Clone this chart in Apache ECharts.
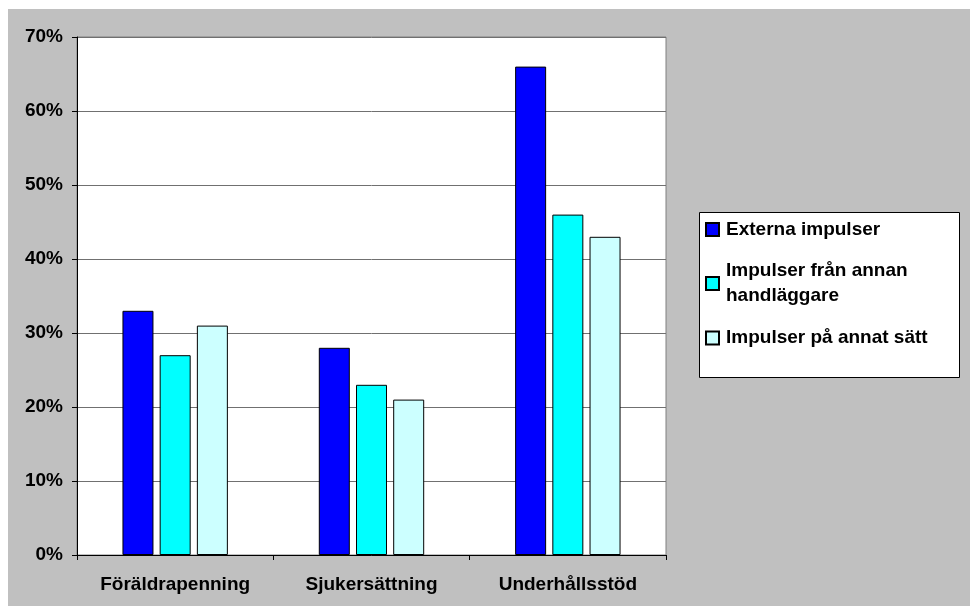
<!DOCTYPE html>
<html>
<head>
<meta charset="utf-8">
<script src="https://cdn.jsdelivr.net/npm/echarts@6/dist/echarts.min.js"></script>
<style>
  html, body { margin: 0; padding: 0; background: #ffffff; }
  #chart { position: absolute; left: 8px; top: 9px; width: 962px; height: 597px; }
</style>
</head>
<body>
<div id="chart"></div>
<script>
// Categories on the x axis
const categories = ['Föräldrapenning', 'Sjukersättning', 'Underhållsstöd'];

// Share of cases (%) per impulse type
const externaImpulser = [33, 28, 66];
const impulserAnnanHandlaggare = [27, 23, 46];
const impulserAnnatSatt = [31, 21, 43];

// Series names (legend text)
const seriesNames = ['Externa impulser', 'Impulser från annan\nhandläggare', 'Impulser på annat sätt'];
const seriesColors = ['#0000FF', '#00FFFF', '#CCFFFF'];

// Value axis range
const yMin = 0;
const yMax = 70;
const yStep = 10;

const FONT = '"Liberation Sans", Arial, sans-serif';
const textBase = { fontFamily: FONT, fontSize: 19, fontWeight: 'bold', color: '#000' };

function barSeries(name, data, color) {
  return {
    name: name,
    type: 'bar',
    data: data,
    barWidth: 31,
    barGap: '20%',
    itemStyle: { color: color, borderColor: '#000', borderWidth: 1 },
    emphasis: { disabled: true }
  };
}

function legendFor(name, top, extraText) {
  return {
    data: [name],
    orient: 'vertical',
    left: 697,
    top: top,
    padding: 0,
    itemWidth: 13,
    itemHeight: 13,
    icon: 'rect',
    selectedMode: false,
    z: 5,
    textStyle: Object.assign({}, textBase, { lineHeight: 25, padding: [0, 0, 0, 2] }, extraText || {})
  };
}

const chart = echarts.init(document.getElementById('chart'));
chart.setOption({
  backgroundColor: '#C0C0C0',
  animation: false,
  grid: {
    left: 69, top: 28, right: 304, bottom: 51,
    show: true, backgroundColor: '#FFFFFF', borderColor: '#808080', borderWidth: 1
  },
  xAxis: {
    type: 'category',
    data: categories,
    axisLine: { lineStyle: { color: '#000', width: 1 } },
    axisTick: { show: true, length: 5, inside: false, lineStyle: { color: '#000' } },
    axisLabel: Object.assign({}, textBase, { margin: 20 }),
    splitLine: { show: false }
  },
  yAxis: {
    type: 'value',
    min: yMin, max: yMax, interval: yStep,
    axisLine: { show: true, lineStyle: { color: '#000', width: 1 } },
    axisTick: { show: true, length: 5, lineStyle: { color: '#000' } },
    axisLabel: Object.assign({}, textBase, { margin: 14, formatter: '{value}%' }),
    splitLine: { show: true, lineStyle: { color: '#707070', width: 1 } }
  },
  legend: [
    legendFor(seriesNames[0], 208),
    legendFor(seriesNames[1], 237, { padding: [25, 0, 0, 2] }),
    legendFor(seriesNames[2], 316.5)
  ],
  graphic: [{
    type: 'rect',
    z: 1,
    shape: { x: 691.5, y: 203.5, width: 260, height: 165 },
    style: { fill: '#FFFFFF', stroke: '#000', lineWidth: 1 }
  }],
  series: [
    barSeries(seriesNames[0], externaImpulser, seriesColors[0]),
    barSeries(seriesNames[1], impulserAnnanHandlaggare, seriesColors[1]),
    barSeries(seriesNames[2], impulserAnnatSatt, seriesColors[2])
  ]
});
</script>
</body>
</html>
